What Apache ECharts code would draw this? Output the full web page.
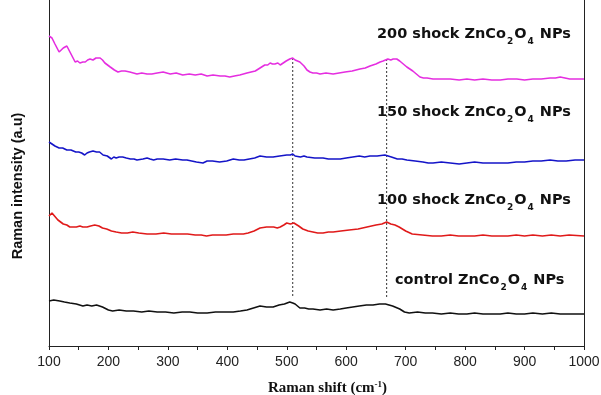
<!DOCTYPE html>
<html>
<head>
<meta charset="utf-8">
<script src="https://cdn.jsdelivr.net/npm/echarts@6/dist/echarts.min.js"></script>
<style>
  html, body { margin: 0; padding: 0; background: #fff; }
  #chart { width: 601px; height: 395px; }
</style>
</head>
<body>
<div id="chart"></div>
<script>
// Raman spectra, offset stack (shift cm-1, intensity a.u.)
var shock200 = [[100,310],[105,308],[110,302],[117,294],[124,298],[130,300],[137,292],[144,284],[148,285],[152,283],[157,284],[161,284],[165,286],[169,287],[174,286],[179,288],[186,288],[190,286],[194,283],[203,279],[210,276],[216,274],[222,275],[228,275],[236,274],[242,273],[248,272],[256,273],[265,272],[273,272],[282,273],[292,274],[304,272],[314,273],[325,271],[336,272],[346,271],[356,272],[366,270],[376,271],[388,270],[396,270],[404,269],[412,270],[421,271],[433,273],[440,274],[447,275],[455,278],[463,281],[468,281],[472,283],[476,282],[480,282],[485,283],[489,281],[494,283],[499,285],[505,287],[510,288],[514,286],[517,287],[522,284],[529,280],[534,276],[539,274],[544,273],[550,273],[556,272],[566,273],[578,272],[588,273],[598,274],[610,275],[623,277],[632,278],[640,280],[650,282],[657,284],[662,285],[666,286],[670,287],[675,286],[679,287],[685,287],[690,285],[694,283],[702,279],[712,275],[718,272],[724,269],[730,268],[736,268],[746,267],[760,267],[775,267],[790,266],[803,267],[816,266],[830,267],[845,266],[859,266],[872,267],[887,267],[900,266],[914,267],[928,267],[943,268],[952,268],[960,269],[968,268],[976,267],[988,267],[1000,267]];
var shock150 = [[100,204],[103,203],[110,200],[117,198],[123,198],[130,196],[137,196],[141,195],[145,194],[150,194],[155,193],[160,191],[164,193],[168,194],[174,195],[180,194],[185,194],[191,191],[198,190],[205,187],[209,189],[213,188],[218,189],[224,189],[230,188],[237,187],[243,187],[248,186],[258,187],[265,188],[270,187],[276,186],[282,187],[292,187],[303,186],[313,187],[325,186],[332,186],[340,185],[348,184],[359,183],[366,185],[375,185],[387,184],[399,185],[410,187],[420,186],[428,186],[437,187],[446,188],[455,190],[466,189],[477,189],[488,190],[500,191],[506,191],[510,192],[514,190],[517,191],[523,189],[529,190],[534,189],[547,188],[561,188],[570,187],[578,187],[590,187],[600,188],[611,189],[622,190],[631,189],[640,190],[652,190],[665,191],[676,189],[686,187],[694,187],[702,186],[716,185],[729,184],[738,183],[746,183],[760,184],[775,183],[790,182],[803,183],[816,184],[830,183],[845,183],[859,183],[872,183],[886,184],[900,184],[914,185],[928,185],[943,186],[956,185],[970,185],[985,186],[1000,186]];
var shock100 = [[100,130],[105,133],[108,132],[115,126],[118,124],[124,122],[130,121],[135,119],[146,119],[152,120],[157,119],[164,119],[170,120],[177,121],[184,120],[190,118],[197,117],[205,115],[213,114],[222,113],[232,113],[241,114],[251,113],[265,112],[280,112],[293,113],[306,112],[320,112],[333,112],[346,111],[356,111],[365,110],[375,111],[385,111],[398,111],[410,112],[420,112],[427,112],[435,113],[445,115],[455,118],[466,119],[478,119],[484,118],[489,119],[495,121],[500,123],[506,122],[512,123],[520,120],[527,117],[536,115],[544,114],[552,113],[561,113],[570,114],[578,114],[591,115],[605,116],[620,117],[635,119],[650,121],[660,122],[668,124],[675,122],[682,121],[689,119],[700,115],[711,112],[728,111],[745,110],[760,110],[775,111],[789,110],[803,110],[816,110],[830,111],[845,110],[859,110],[872,110],[886,111],[900,110],[914,111],[930,110],[945,111],[960,110],[975,111],[1000,110]];
var control = [[100,45],[108,46],[118,45],[126,44],[135,43],[146,42],[157,40],[164,41],[172,40],[180,41],[190,39],[200,36],[207,35],[218,36],[230,35],[242,35],[256,34],[268,35],[282,34],[296,34],[310,33],[324,34],[337,34],[350,33],[366,33],[380,34],[395,34],[410,34],[422,35],[433,36],[444,38],[455,40],[466,39],[477,39],[487,41],[496,42],[505,44],[510,43],[514,42],[518,40],[522,38],[530,38],[537,37],[544,37],[556,36],[567,37],[578,36],[590,37],[600,38],[611,39],[622,40],[634,41],[645,41],[656,42],[666,42],[678,40],[690,37],[698,34],[706,33],[720,34],[733,33],[745,33],[760,32],[775,33],[789,32],[803,32],[816,33],[830,32],[845,32],[859,32],[872,33],[886,32],[900,32],[914,33],[930,32],[945,33],[960,32],[975,32],[1000,32]];
var peakA = [[510,288],[510,48]];
var peakB = [[668,287],[668,48]];
var xTicks = [100, 1000, 100];

var chart = echarts.init(document.getElementById('chart'));

function sample(y, n) {
  return {
    type: 'text', left: 377, top: y,
    style: {
      text: '{a|' + n + ' ZnCo}{s|2}{a|O}{s|4}{a| NPs}',
      rich: {
        a: { fontFamily: 'DejaVu Sans', fontWeight: 'bold', fontSize: 14.5, fill: '#111', lineHeight: 18, verticalAlign: 'bottom' },
        s: { fontFamily: 'DejaVu Sans', fontWeight: 'bold', fontSize: 9, fill: '#111', lineHeight: 18, verticalAlign: 'bottom', padding: [0, 1, -4, 1] }
      }
    }
  };
}

var lineSeries = function (data, color) {
  return { type: 'line', data: data, showSymbol: false, symbol: 'none', lineStyle: { color: color, width: 1.6 }, z: 3 };
};
var dotSeries = function (data) {
  return { type: 'line', data: data, showSymbol: false, symbol: 'none', lineStyle: { color: '#333', width: 1, type: [2, 2] }, z: 2 };
};

chart.setOption({
  animation: false,
  grid: { left: 49, right: 17, top: 0, bottom: 49, outerBoundsMode: 'none' },
  xAxis: {
    type: 'value', min: xTicks[0], max: xTicks[1], interval: xTicks[2],
    axisLine: { lineStyle: { color: '#222', width: 1 } },
    axisTick: { inside: false, length: 4, lineStyle: { color: '#222' } },
    minorTick: { show: true, splitNumber: 2, length: 4, lineStyle: { color: '#222' } },
    splitLine: { show: false },
    axisLabel: { fontFamily: 'Liberation Sans', fontSize: 14, color: '#222', margin: 9, formatter: function (v) { return String(v); } },
    name: '{t|Raman shift (cm}{u|-1}{t|)}', nameLocation: 'middle', nameGap: 32,
    nameTextStyle: {
      padding: [0, 0, 0, 22],
      rich: {
        t: { fontFamily: 'Liberation Serif', fontWeight: 'bold', fontSize: 15, color: '#111', lineHeight: 18, verticalAlign: 'bottom' },
        u: { fontFamily: 'Liberation Serif', fontWeight: 'bold', fontSize: 9, color: '#111', lineHeight: 18, verticalAlign: 'bottom', padding: [0, 0, 7, 0] }
      }
    }
  },
  yAxis: [{
    type: 'value', min: 0, max: 346,
    axisLine: { show: true, lineStyle: { color: '#222', width: 1 } },
    axisTick: { show: false }, axisLabel: { show: false }, splitLine: { show: false },
    name: 'Raman intensity (a.u)', nameLocation: 'middle', nameGap: 24,
    nameTextStyle: { fontFamily: 'Liberation Sans', fontWeight: 'bold', fontSize: 14.5, color: '#111', padding: [0, 26, 0, 0] }
  }, {
    type: 'value', min: 0, max: 346, position: 'right',
    axisLine: { show: true, lineStyle: { color: '#222', width: 1 } },
    axisTick: { show: false }, axisLabel: { show: false }, splitLine: { show: false }
  }],
  series: [
    dotSeries(peakA), dotSeries(peakB),
    lineSeries(shock200, '#e52ee0'),
    lineSeries(shock150, '#1414c8'),
    lineSeries(shock100, '#e01a1a'),
    lineSeries(control, '#111111')
  ],
  graphic: [
    sample(27, '200 shock'),
    sample(105, '150 shock'),
    sample(193, '100 shock'),
    Object.assign(sample(273, 'control'), { left: 395 })
  ]
});
</script>
</body>
</html>
